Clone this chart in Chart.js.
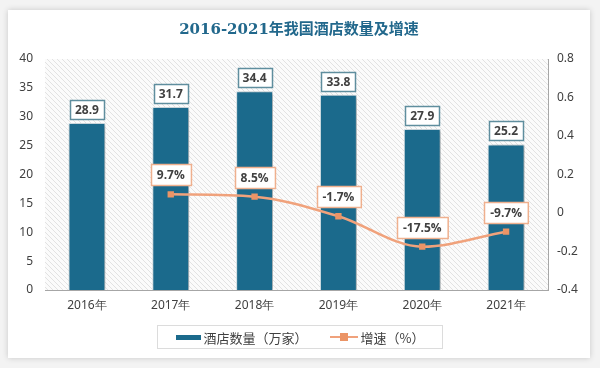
<!DOCTYPE html>
<html>
<head>
<meta charset="utf-8">
<script src="https://cdn.jsdelivr.net/npm/chart.js@4.4.1/dist/chart.umd.min.js"></script>
<style>
  html, body { margin: 0; padding: 0; background: #f3f3f3; }
  body { width: 600px; height: 368px; position: relative; overflow: hidden; }
  .card {
    position: absolute; left: 8px; top: 10px; width: 582px; height: 348px;
    background: #fff; box-shadow: 0 0 6px rgba(0,0,0,0.18);
  }
  #chart { position: absolute; left: 0; top: 0; }
  .legend {
    position: absolute; left: 149px; top: 315px; width: 286px; height: 24px;
    border: 1px solid #dcdcdc; box-sizing: border-box;
    font-family: "Noto Sans CJK SC", "Noto Sans", sans-serif; font-size: 13px; color: #404040;
    display: flex; align-items: center; justify-content: center; gap: 22px;
  }
  .legend .item { display: flex; align-items: center; }
  .sw-bar { width: 25px; height: 5px; background: #1b6a8c; margin-right: 3px; }
  .sw-line { position: relative; width: 28px; height: 10px; margin-right: 3px; }
  .sw-line::before { content: ""; position: absolute; left: 0; right: 0; top: 4px; height: 2px; background: #f0a27c; }
  .sw-line::after { content: ""; position: absolute; left: 10px; top: 1px; width: 8px; height: 8px; background: #eb9466; }
</style>
</head>
<body>
<div class="card">
  <canvas id="chart" width="582" height="348"></canvas>
  <div class="legend">
    <div class="item"><span class="sw-bar"></span>酒店数量（万家）</div>
    <div class="item"><span class="sw-line"></span>增速（%）</div>
  </div>
</div>
<script>
// data
const years = ['2016年', '2017年', '2018年', '2019年', '2020年', '2021年'];
const hotelCount = [28.9, 31.7, 34.4, 33.8, 27.9, 25.2];
const growth = [null, 0.097, 0.085, -0.017, -0.175, -0.097];
const growthLabels = [null, '9.7%', '8.5%', '-1.7%', '-17.5%', '-9.7%'];
const rightTickLabels = ['-0.4', '-0.2', '0', '0.2', '0.4', '0.6', '0.8'];

const barColor = '#1b6a8c';
const lineColor = '#f0a27c';
const tickFont = { family: '"Noto Sans", "Open Sans", sans-serif', size: 12 };

// diagonal hatch behind the plot
const hatchBg = {
    id: 'hatchBg',
    beforeDraw(chart) {
        const { ctx, chartArea: a } = chart;
        const p = document.createElement('canvas');
        p.width = 5; p.height = 5;
        const pc = p.getContext('2d');
        pc.fillStyle = '#fbfbfb';
        pc.fillRect(0, 0, 5, 5);
        pc.strokeStyle = '#e2e2e2';
        pc.lineWidth = 1;
        pc.beginPath();
        pc.moveTo(-1, -1); pc.lineTo(6, 6);
        pc.stroke();
        ctx.save();
        ctx.fillStyle = ctx.createPattern(p, 'repeat');
        ctx.fillRect(a.left, a.top, a.right - a.left, a.bottom - a.top);
        ctx.restore();
    }
};

// soft shadow on the bars
const barShadow = {
    id: 'barShadow',
    beforeDatasetDraw(chart, args) {
        if (args.index !== 0) return;
        const ctx = chart.ctx;
        ctx.save();
        ctx.shadowColor = 'rgba(0,0,0,0.3)';
        ctx.shadowBlur = 4;
        ctx.shadowOffsetX = 2;
        ctx.shadowOffsetY = 1;
    },
    afterDatasetDraw(chart, args) {
        if (args.index !== 0) return;
        chart.ctx.restore();
    }
};

function drawBox(ctx, text, cx, bottom, border, padX, h) {
    ctx.font = 'bold 12px "Open Sans", "Noto Sans", sans-serif';
    const w = ctx.measureText(text).width + padX * 2;
    const x = Math.round(cx - w / 2) + 0.5, y = Math.round(bottom - h) + 0.5;
    ctx.fillStyle = '#ffffff';
    ctx.fillRect(x, y, w, h);
    ctx.strokeStyle = border;
    ctx.lineWidth = 1.5;
    ctx.strokeRect(x, y, w, h);
    ctx.fillStyle = '#404040';
    ctx.textAlign = 'center';
    ctx.textBaseline = 'middle';
    ctx.fillText(text, cx, y + h / 2 + 0.5);
}

const valueBoxes = {
    id: 'valueBoxes',
    afterDatasetsDraw(chart) {
        const ctx = chart.ctx;
        ctx.save();
        chart.getDatasetMeta(0).data.forEach((bar, i) => {
            drawBox(ctx, hotelCount[i].toFixed(1), bar.x, bar.y - 4, '#5f8e9e', 5, 19);
        });
        chart.getDatasetMeta(1).data.forEach((pt, i) => {
            if (growth[i] === null) return;
            drawBox(ctx, growthLabels[i], pt.x, pt.y - 9, '#efb08e', 6, 21);
        });
        ctx.restore();
    }
};

new Chart(document.getElementById('chart'), {
    data: {
        labels: years,
        datasets: [
            {
                type: 'bar',
                label: '酒店数量（万家）',
                data: hotelCount,
                backgroundColor: barColor,
                borderColor: '#d7e4ea',
                borderWidth: 1,
                categoryPercentage: 1,
                barPercentage: 0.44,
                yAxisID: 'y',
                order: 2
            },
            {
                type: 'line',
                label: '增速（%）',
                data: growth,
                borderColor: lineColor,
                borderWidth: 2.5,
                backgroundColor: '#eb9466',
                pointStyle: 'rect',
                pointRadius: 4.5,
                pointBorderWidth: 0,
                tension: 0.4,
                cubicInterpolationMode: 'monotone',
                yAxisID: 'y1',
                order: 1
            }
        ]
    },
    options: {
        responsive: false,
        animation: false,
        layout: { padding: 0 },
        plugins: {
            legend: { display: false },
            tooltip: { enabled: false },
            title: {
                display: true,
                text: '2016-2021年我国酒店数量及增速',
                color: '#22688c',
                font: { family: '"DejaVu Serif", "Noto Sans CJK SC", serif', size: 15, weight: 'bold' },
                padding: { top: 11, bottom: 20 }
            }
        },
        scales: {
            x: {
                grid: { display: false, drawTicks: false },
                border: { display: true, color: '#a6a6a6', width: 1 },
                ticks: { color: '#404040', font: tickFont, padding: 8 },
                afterFit(s) { s.height = 68; }
            },
            y: {
                position: 'left',
                min: 0, max: 40,
                grid: { display: false, drawTicks: false },
                border: { display: false },
                ticks: { stepSize: 5, color: '#404040', font: tickFont, padding: 12 },
                afterFit(s) { s.width = 37; }
            },
            y1: {
                position: 'right',
                min: -0.4, max: 0.8,
                grid: { display: false, drawOnChartArea: false, drawTicks: true, tickLength: 5, color: '#a6a6a6' },
                border: { display: true, color: '#a6a6a6', width: 1 },
                ticks: {
                    stepSize: 0.2, color: '#404040', font: tickFont, padding: 4,
                    callback: (v, i) => rightTickLabels[i]
                },
                afterFit(s) { s.width = 42; }
            }
        }
    },
    plugins: [hatchBg, barShadow, valueBoxes]
});
</script>
</body>
</html>
